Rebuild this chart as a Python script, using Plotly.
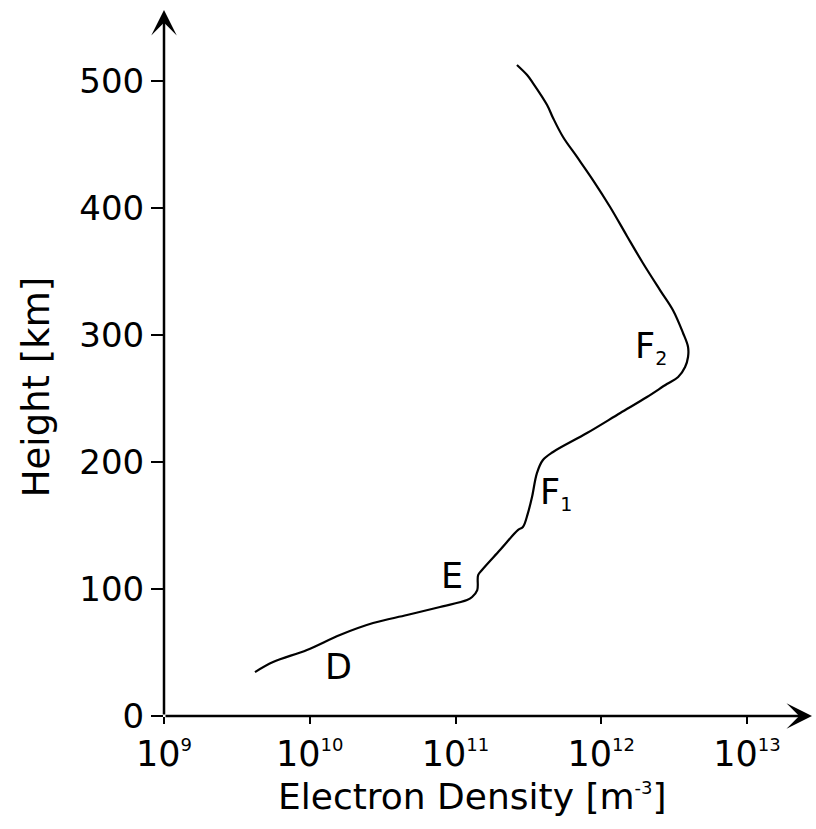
import plotly.graph_objects as go

# Electron density profile (m^-3) vs height (km)
density = [4.21e9, 5.60e9, 9.57e9, 1.61e10, 2.72e10, 4.65e10, 7.83e10, 1.20e11,
           1.30e11, 1.41e11, 1.43e11, 1.52e11, 2.02e11, 2.69e11, 2.90e11, 3.14e11,
           3.35e11, 3.62e11, 3.98e11, 4.67e11, 7.98e11, 1.35e12, 2.06e12, 2.82e12,
           3.37e12, 3.76e12, 3.94e12, 3.94e12, 3.64e12, 3.10e12, 2.53e12, 1.93e12,
           1.50e12, 1.15e12, 8.77e11, 6.82e11, 5.47e11, 4.67e11, 4.25e11, 3.40e11,
           3.10e11, 2.64e11]
height = [34.6, 42.5, 52.0, 63.8, 73.2, 79.5, 85.8, 91.3,
          93.7, 99.2, 111.0, 115.0, 130.7, 146.5, 148.8, 159.8,
          172.4, 191.3, 201.6, 207.9, 222.8, 238.6, 251.2, 261.4,
          266.9, 274.8, 282.7, 290.6, 301.6, 319.7, 335.4, 356.7,
          378.0, 400.8, 422.0, 440.2, 455.9, 470.9, 481.1, 498.4,
          504.7, 512.6]

x_tickvals = [1e9, 1e10, 1e11, 1e12, 1e13]
x_exponents = ["9", "10", "11", "12", "13"]
y_tickvals = [0, 100, 200, 300, 400, 500]

layer_names = ["D", "E", "F<sub><span style='font-size:19px'>1</span></sub>",
               "F<sub><span style='font-size:19px'>2</span></sub>"]
layer_x = [10.194, 10.976, 11.69, 12.341]   # log10 positions
layer_y = [38.5, 110.5, 175.0, 290.0]

FONT = "DejaVu Sans"
XMAX = 13.4597
YMAX = 559.06

fig = go.Figure()
fig.add_trace(go.Scatter(x=density, y=height, mode="lines",
                         line=dict(color="black", width=2.2, shape="spline", smoothing=1.0),
                         showlegend=False, hoverinfo="skip"))

annotations = []
for name, lx, ly in zip(layer_names, layer_x, layer_y):
    annotations.append(dict(x=lx, y=ly, xref="x", yref="y", text=name, showarrow=False,
                            font=dict(family=FONT, size=35, color="black"),
                            xanchor="center", yanchor="middle"))

# axis arrows
annotations.append(dict(x=13.446, y=0, xref="x", yref="y", ax=9, ay=0, axref="x", ayref="y",
                        text="", showarrow=True, arrowhead=3, arrowsize=1.7, arrowwidth=2.5,
                        arrowcolor="black", standoff=0))
annotations.append(dict(x=9, y=556, xref="x", yref="y", ax=9, ay=0, axref="x", ayref="y",
                        text="", showarrow=True, arrowhead=3, arrowsize=1.7, arrowwidth=2.5,
                        arrowcolor="black", standoff=0))

# axis titles
annotations.append(dict(x=-0.197, y=0.463, xref="paper", yref="paper", text="Height [km]",
                        textangle=-90, showarrow=False,
                        font=dict(family=FONT, size=37, color="black"),
                        xanchor="center", yanchor="middle"))
annotations.append(dict(x=0.474, y=-0.113, xref="paper", yref="paper",
                        text="Electron Density [m<sup><span style='font-size:18px'>-3</span></sup>]",
                        showarrow=False, font=dict(family=FONT, size=36, color="black"),
                        xanchor="center", yanchor="middle"))

fig.update_layout(
    width=816, height=829,
    margin=dict(l=164, r=2, t=6, b=113, pad=0),
    paper_bgcolor="white", plot_bgcolor="white",
    annotations=annotations,
    font=dict(family=FONT, color="black"),
)
fig.update_xaxes(type="log", range=[9, XMAX], showgrid=False, zeroline=False, showline=False,
                 tickvals=x_tickvals,
                 ticktext=["10<sup><span style='font-size:18px'>%s</span></sup>" % e for e in x_exponents],
                 ticks="outside", ticklen=7, tickwidth=2, tickcolor="black",
                 tickfont=dict(family=FONT, size=35, color="black"))
fig.update_yaxes(range=[0, YMAX], showgrid=False, zeroline=False, showline=False,
                 tickvals=y_tickvals, ticks="outside", ticklen=12, tickwidth=2, tickcolor="black",
                 tickfont=dict(family=FONT, size=34, color="black"))

fig.write_html("out.html")
